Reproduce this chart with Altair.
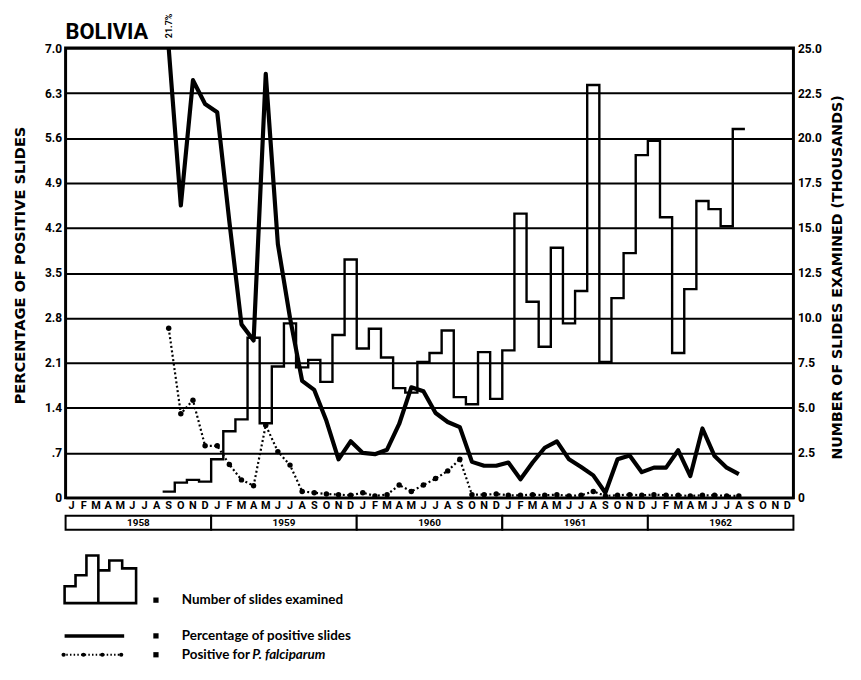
import altair as alt
import pandas as pd

# ---------------- data ----------------
MONTH_LETTERS = ["J", "F", "M", "A", "M", "J", "J", "A", "S", "O", "N", "D"]
YEARS = ["1958", "1959", "1960", "1961", "1962"]
FIRST_MONTH = 8  # September 1958 (months counted from January 1958)

# Number of slides examined (thousands), Sep 1958 - Aug 1962
SLIDES_K = [0.35, 0.85, 1.0, 0.9,
            2.15, 3.7, 4.36, 8.9, 4.15, 7.3, 9.7, 7.25, 7.67, 6.45, 9.05, 13.25,
            8.3, 9.4, 7.8, 6.1, 5.85, 7.55, 8.05, 9.3, 5.6, 5.2, 8.1, 5.5,
            8.2, 15.8, 10.9, 8.4, 13.9, 9.7, 11.5, 22.95, 7.55, 11.1, 13.6, 19.05,
            19.85, 15.6, 8.05, 11.6, 16.5, 16.05, 15.1, 20.5]
# Percentage of positive slides
PCT_POSITIVE = [21.7, 4.55, 6.5, 6.13,
                6.0, 4.3, 2.7, 2.45, 6.6, 3.95, 2.8, 1.82, 1.68, 1.2, 0.6, 0.88,
                0.7, 0.68, 0.75, 1.15, 1.72, 1.66, 1.32, 1.18, 1.1, 0.56, 0.5, 0.5,
                0.55, 0.29, 0.55, 0.78, 0.88, 0.6, 0.48, 0.35, 0.08, 0.6, 0.66, 0.4,
                0.47, 0.47, 0.74, 0.34, 1.08, 0.65, 0.47, 0.37]
# Positive for P. falciparum (percent)
PCT_FALCIPARUM = [2.64, 1.31, 1.52, 0.81,
                  0.81, 0.52, 0.28, 0.19, 1.13, 0.72, 0.51, 0.10, 0.08, 0.06, 0.05, 0.04,
                  0.08, 0.03, 0.05, 0.20, 0.10, 0.20, 0.30, 0.42, 0.60, 0.05, 0.05, 0.06,
                  0.04, 0.04, 0.05, 0.04, 0.05, 0.03, 0.04, 0.10, 0.03, 0.04, 0.05, 0.04,
                  0.05, 0.04, 0.04, 0.03, 0.04, 0.04, 0.03, 0.03]

LEFT_TICKS = [round(0.7 * k, 1) for k in range(11)]
RIGHT_TICKS = [2.5 * k for k in range(11)]

# ---------------- tables ----------------
n = len(SLIDES_K)
df = pd.DataFrame({
    "m": [FIRST_MONTH + i for i in range(n)],
    "slides": SLIDES_K,
    "pct": PCT_POSITIVE,
    "falc": PCT_FALCIPARUM,
})
df["mid"] = df["m"] + 0.5
steps = pd.concat([df[["m", "slides"]],
                   pd.DataFrame({"m": [df["m"].iloc[-1] + 1], "slides": [SLIDES_K[-1]]})],
                  ignore_index=True)
months = pd.DataFrame({"mid": [i + 0.5 for i in range(12 * len(YEARS))],
                       "letter": [MONTH_LETTERS[i % 12] for i in range(12 * len(YEARS))]})
years = pd.DataFrame({"start": [12 * k for k in range(len(YEARS))],
                      "end": [12 * (k + 1) for k in range(len(YEARS))],
                      "mid": [12 * k + 6 for k in range(len(YEARS))],
                      "year": YEARS})

W, H = 733, 453
FONT = "Roboto"
xs = alt.Scale(domain=[0, 12 * len(YEARS)], nice=False, zero=False)


def yl():
    return alt.Scale(domain=[0, 7], nice=False, clamp=True)


pct_line = alt.Chart(df).mark_line(color="black", strokeWidth=4.2, strokeJoin="round").encode(
    x=alt.X("mid:Q", scale=xs,
            axis=alt.Axis(values=list(range(0, 61, 3)), grid=True, gridColor="black",
                          gridWidth=2, gridOpacity=1, labels=False, ticks=False,
                          domain=False, title=None)),
    y=alt.Y("pct:Q", scale=yl(),
            axis=alt.Axis(orient="left", values=LEFT_TICKS, grid=True, gridColor="black",
                          gridWidth=2, gridOpacity=1, ticks=False, domain=False, title=None,
                          labelPadding=4,
                          labelExpr="datum.value == 0 ? '0' : (datum.value < 1 ? '.7' : format(datum.value, '.1f'))",
                          labelFont=FONT, labelFontSize=12, labelFontWeight="bold",
                          labelColor="black")),
)

hist = alt.Chart(steps).mark_line(interpolate="step-after", color="black",
                                  strokeWidth=2.4).encode(
    x=alt.X("m:Q", scale=xs, axis=None),
    y=alt.Y("slides:Q", scale=alt.Scale(domain=[0, 25], nice=False),
            axis=alt.Axis(orient="right", values=RIGHT_TICKS, grid=False, ticks=False,
                          domain=False, title=None, labelPadding=4,
                          labelExpr="datum.value == 0 ? '0' : format(datum.value, '.1f')",
                          labelFont=FONT, labelFontSize=12, labelFontWeight="bold",
                          labelColor="black")),
)

falc_line = alt.Chart(df).mark_line(color="black", strokeWidth=2.2, strokeDash=[2, 2.5]).encode(
    x=alt.X("mid:Q", scale=xs, axis=None),
    y=alt.Y("falc:Q", scale=yl(), axis=None),
)
falc_pts = alt.Chart(df).mark_circle(color="black", size=30, opacity=1).encode(
    x=alt.X("mid:Q", scale=xs, axis=None),
    y=alt.Y("falc:Q", scale=yl(), axis=None),
)

peak_label = alt.Chart(df.head(1)).transform_calculate(
    lab="format(datum.pct, '.1f') + '%'"
).mark_text(angle=270, align="left", baseline="middle", font=FONT, fontSize=9,
            fontWeight="bold", color="black").encode(
    x=alt.X("mid:Q", scale=xs, axis=None), y=alt.value(-10), text="lab:N")

month_txt = alt.Chart(months).mark_text(font=FONT, fontSize=11, fontWeight="bold",
                                        color="black", baseline="middle").encode(
    x=alt.X("mid:Q", scale=xs, axis=None), y=alt.value(H + 8), text="letter:N")
year_box = alt.Chart(years).mark_rect(fill="white", stroke="black", strokeWidth=2).encode(
    x=alt.X("start:Q", scale=xs, axis=None), x2="end:Q",
    y=alt.value(H + 18), y2=alt.value(H + 32))
year_txt = alt.Chart(years).mark_text(font=FONT, fontSize=10, fontWeight="bold",
                                      color="black", baseline="middle").encode(
    x=alt.X("mid:Q", scale=xs, axis=None), y=alt.value(H + 25.5), text="year:N")

one = pd.DataFrame({"a": [0]})


def label(text, x, y, size, weight="bold", angle=0, align="left", font=FONT, style="normal"):
    return alt.Chart(one).mark_text(text=text, font=font, fontSize=size, fontWeight=weight,
                                    angle=angle, align=align, baseline="middle",
                                    color="black", fontStyle=style).encode(
        x=alt.value(x), y=alt.value(y))


title = alt.Chart(one).mark_text(text="BOLIVIA", font=FONT, fontSize=22, fontWeight="bold",
                                 align="left", baseline="alphabetic", color="black").encode(
    x=alt.value(0), y=alt.value(-9))
ltitle = label("PERCENTAGE OF POSITIVE SLIDES", -45, 219, 14.7, angle=270, align="center",
               font="DejaVu Sans")
rtitle = label("NUMBER OF SLIDES EXAMINED (THOUSANDS)", 778, 231, 14.3, angle=270,
               align="center", font="DejaVu Sans")

STEP_GLYPH = ("M-1,0.667 L-1,0.194 L-0.694,0.194 L-0.694,-0.111 L-0.389,-0.111 "
              "L-0.389,-0.667 L-0.056,-0.667 L-0.056,-0.25 L0.25,-0.25 L0.25,-0.528 "
              "L0.611,-0.528 L0.611,-0.306 L1,-0.306 L1,0.667 Z M-0.056,-0.25 L-0.056,0.667")
glyph = alt.Chart(one).mark_point(shape=STEP_GLYPH, size=5184, filled=False, stroke="black",
                                  strokeWidth=2.6, opacity=1).encode(
    x=alt.value(35), y=alt.value(535))
LEG_Y = [556, 592, 611]
squares = [alt.Chart(one).mark_point(shape="square", size=28, filled=True, color="black",
                                     opacity=1).encode(x=alt.value(91), y=alt.value(yy))
           for yy in LEG_Y]
solid = alt.Chart(one).mark_rule(color="black", strokeWidth=3.5).encode(
    x=alt.value(-1), x2=alt.value(59), y=alt.value(LEG_Y[1]))
dotted = alt.Chart(one).mark_rule(color="black", strokeWidth=2, strokeDash=[1.5, 2.2]).encode(
    x=alt.value(-3), x2=alt.value(57), y=alt.value(LEG_Y[2]))
dots = [alt.Chart(one).mark_circle(size=18, color="black", opacity=1).encode(
    x=alt.value(xx), y=alt.value(LEG_Y[2])) for xx in [-2, 18, 37, 56]]
LFONT = "Lato"
t1 = label("Number of slides examined", 117, LEG_Y[0], 13.5, font=LFONT)
t2 = label("Percentage of positive slides", 117, LEG_Y[1], 13.5, font=LFONT)
t3 = label("Positive for", 117, LEG_Y[2], 13.5, font=LFONT)
t4 = label("P. falciparum", 188, LEG_Y[2], 13.5, font=LFONT, style="italic")

chart = alt.layer(
    pct_line, hist, falc_line, falc_pts, peak_label, month_txt, year_box, year_txt, title,
    ltitle, rtitle, glyph, *squares, solid, dotted, *dots, t1, t2, t3, t4,
).resolve_scale(y="independent").properties(
    width=W, height=H,
    autosize=alt.AutoSizeParams(type="none"),
    padding={"left": 58, "top": 38, "right": 60, "bottom": 170},
    background="white",
).configure_view(stroke="black", strokeWidth=3)

chart.save("out.html", embed_options={"renderer": "svg", "actions": False})
